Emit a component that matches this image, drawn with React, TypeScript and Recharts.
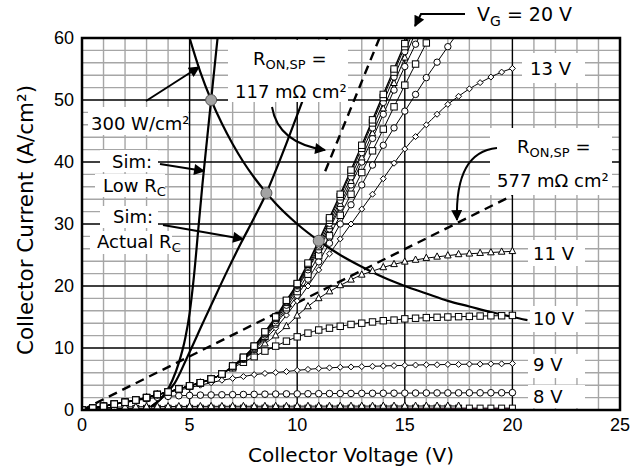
import React from 'react';
import { ComposedChart, Line, Scatter, XAxis, YAxis, CartesianGrid } from 'recharts';

// collector voltage sample points (V), markers every 0.5 V
const volts = [
  0, 0.5, 1, 1.5, 2, 2.5, 3, 3.5, 4, 4.5, 5, 5.5, 6, 6.5, 7, 7.5, 8, 8.5, 9, 9.5, 10,
  10.5, 11, 11.5, 12, 12.5, 13, 13.5, 14, 14.5, 15, 15.5, 16, 16.5, 17, 17.5, 18, 18.5, 19, 19.5, 20,
];

// common turn-on part of the high gate voltage curves (0 .. 6.5 V)
const riseShared = [0, 0.3, 0.6, 0.95, 1.25, 1.6, 2.0, 2.5, 2.9, 3.4, 3.9, 4.4, 5.0, 5.8];

// 7 .. 20 V for each gate voltage
const vg20Tail = [7.1, 8.5, 10.3, 12.6, 15.0, 17.7, 20.4, 23.7, 27.3, 31.0, 34.8, 38.7, 42.7, 46.8, 50.9, 55.0, 59.1, 63.2, null, null, null, null, null, null, null, null, null];
const vg19Tail = [7.1, 8.5, 10.3, 12.5, 14.9, 17.6, 20.3, 23.5, 27.0, 30.6, 34.4, 38.3, 42.2, 46.3, 50.4, 54.5, 58.6, 62.7, null, null, null, null, null, null, null, null, null];
const vg18Tail = [7.0, 8.4, 10.2, 12.4, 14.8, 17.4, 20.1, 23.2, 26.6, 30.1, 33.8, 37.6, 41.5, 45.5, 49.6, 53.7, 57.8, 61.9, null, null, null, null, null, null, null, null, null];
const vg17Tail = [7.0, 8.4, 10.1, 12.3, 14.6, 17.2, 19.9, 22.9, 26.2, 29.6, 33.2, 36.9, 40.7, 44.6, 48.6, 52.7, 56.8, 60.9, null, null, null, null, null, null, null, null, null];
const vg16Tail = [7.0, 8.3, 10.0, 12.1, 14.4, 16.9, 19.6, 22.6, 25.8, 29.2, 32.7, 36.3, 40.0, 43.8, 47.7, 51.6, 55.4, 59.0, 62.6, null, null, null, null, null, null, null, null];
const vg15Tail = [7.0, 8.3, 9.9, 11.9, 14.1, 16.5, 19.1, 21.9, 24.9, 28.1, 31.4, 34.8, 38.3, 41.8, 45.3, 48.9, 52.4, 55.8, 59.2, 62.6, null, null, null, null, null, null, null];
const vg14Tail = [7.0, 8.2, 9.8, 11.7, 13.8, 16.1, 18.5, 21.1, 23.9, 26.9, 30.0, 33.1, 36.3, 39.5, 42.7, 45.5, 48.2, 50.9, 53.6, 56.1, 58.6, 61.0, null, null, null, null, null];
const vg13Tail = [7.0, 8.2, 9.6, 11.4, 13.2, 15.3, 17.6, 20.0, 22.6, 25.2, 27.6, 30.0, 32.4, 34.8, 37.3, 39.8, 42.1, 44.1, 46.0, 47.7, 49.3, 50.6, 51.8, 52.8, 53.7, 54.5, 55.1];
const vg11Tail = [6.9, 8.1, 9.4, 10.7, 12.0, 13.5, 15.2, 16.7, 18.0, 19.1, 20.1, 21.0, 21.8, 22.4, 23.0, 23.5, 23.9, 24.2, 24.5, 24.7, 24.9, 25.1, 25.2, 25.3, 25.4, 25.5, 25.6];
const vg10Tail = [6.8, 7.7, 8.6, 9.5, 10.3, 11.1, 11.8, 12.4, 12.9, 13.2, 13.5, 13.8, 14.0, 14.2, 14.4, 14.5, 14.7, 14.8, 14.9, 14.95, 15.0, 15.05, 15.1, 15.15, 15.2, 15.2, 15.25];

// full 0 .. 20 V curves for the low gate voltages
const vg9 = [0, 0.3, 0.6, 0.95, 1.25, 1.6, 2.0, 2.4, 2.8, 3.2, 3.6, 4.0, 4.4, 4.8, 5.1, 5.4, 5.7, 5.9, 6.05, 6.2, 6.4, 6.55, 6.7, 6.8, 6.9, 6.95, 7.0, 7.05, 7.1, 7.15, 7.2, 7.25, 7.3, 7.3, 7.35, 7.35, 7.4, 7.4, 7.45, 7.45, 7.5];
const vg8 = [0, 0.3, 0.6, 0.9, 1.2, 1.5, 1.8, 2.05, 2.2, 2.3, 2.35, 2.4, 2.42, 2.45, 2.47, 2.5, 2.52, 2.55, 2.57, 2.6, 2.6, 2.62, 2.63, 2.65, 2.66, 2.67, 2.68, 2.69, 2.7, 2.71, 2.72, 2.73, 2.74, 2.75, 2.75, 2.76, 2.77, 2.77, 2.78, 2.78, 2.8];
const vg7 = [0, 0.2, 0.35, 0.45, 0.5, 0.52, 0.54, 0.55, 0.56, 0.57, 0.58, 0.58, 0.59, 0.59, 0.6, 0.6, 0.6, 0.61, 0.61, 0.61, 0.62, 0.62, 0.62, 0.62, 0.63, 0.63, 0.63, 0.63, 0.64, 0.64, 0.64, 0.64, 0.65, 0.65, 0.65, 0.65, null, null, null, null, null];
const vg6 = [0, 0.1, 0.18, 0.22, 0.25, 0.26, 0.27, 0.27, 0.28, 0.28, 0.28, 0.29, 0.29, 0.29, 0.29, 0.3, 0.3, 0.3, 0.3, 0.3, 0.3, 0.3, 0.3, 0.3, 0.3, 0.3, 0.3, 0.3, 0.3, 0.3, 0.3, 0.3, 0.3, 0.3, 0.3, 0.3, 0.3, 0.3, 0.3, 0.3, 0.3];

// near-zero curves drawn as coloured lines
const lowVolts = [0, 2, 4, 6, 8, 10, 12, 14, 16, 18, 20];
const vg5 = [0, 0.1, 0.14, 0.15, 0.15, 0.16, 0.16, 0.16, 0.17, 0.17, 0.17];
const vg4 = [0, 0.05, 0.07, 0.08, 0.08, 0.08, 0.09, 0.09, 0.09, 0.09, 0.09];
const vg3 = [0, 0.01, 0.02, 0.02, 0.02, 0.02, 0.03, 0.03, 0.03, 0.03, 0.03];

// simulations
const lowRcV = [3.2, 3.6, 3.9, 4.2, 4.5, 4.8, 5.0, 5.2, 5.4, 5.6, 5.8, 6.0, 6.15, 6.3, 6.4];
const lowRcI = [0.5, 1.6, 2.8, 4.8, 7.6, 11.6, 15.6, 21.5, 29.0, 36.5, 43.3, 50.0, 55.0, 60.0, 63.0];
const actualRcV = [3.2, 3.6, 3.9, 4.3, 4.9, 5.6, 6.2, 6.8, 7.4, 8.0, 8.57, 9.0, 9.5, 10.1, 10.7, 11.4, 11.6];
const actualRcI = [0.5, 1.6, 2.7, 4.3, 8.6, 13.9, 18.4, 22.8, 27.0, 31.0, 35.0, 38.6, 43.0, 48.5, 54.0, 60.0, 61.8];

// 300 W/cm2 power limit
const powerV = [5, 5.5, 6, 6.5, 7, 7.5, 8, 8.5, 9, 10, 11, 12, 13, 14, 15, 16, 17, 18, 19, 20, 20.7];
const powerI = [60, 54.5, 50, 46.2, 42.9, 40, 37.5, 35.3, 33.3, 30, 27.3, 25, 23.1, 21.4, 20, 18.8, 17.6, 16.7, 15.8, 15, 14.5];

// specific on-resistance lines
const ron117V = [11.3, 14.0];
const ron117I = [38.5, 61.5];
const ron577V = [0, 20];
const ron577I = [0, 34.6];

// operating points at 300 W/cm2
const opV = [6.0, 8.57, 11.0];
const opI = [50, 35.0, 27.3];

const xTicks = [0, 5, 10, 15, 20, 25];
const yTicks = [0, 10, 20, 30, 40, 50, 60];
const xMinor = [1, 2, 3, 4, 6, 7, 8, 9, 11, 12, 13, 14, 16, 17, 18, 19, 21, 22, 23, 24];
const yMinor = [2, 4, 6, 8, 12, 14, 16, 18, 22, 24, 26, 28, 32, 34, 36, 38, 42, 44, 46, 48, 52, 54, 56, 58];
const X_MAX = 25;
const Y_MAX = 60;

const toPoints = (xs: number[], ys: (number | null)[]) => xs.map((x, i) => ({ x, y: ys[i] }));

type Shape = 'circle' | 'square' | 'triangle' | 'diamond' | 'none';

const makeDot = (shape: Shape, s: number) => (props: any) => {
  const { cx, cy, index, payload } = props;
  const k = `d-${index}`;
  if (shape === 'none' || cx == null || cy == null || payload == null || payload.y == null) return <g key={k} />;
  const st = { fill: '#fff', stroke: '#000', strokeWidth: 1 };
  if (shape === 'circle') return <circle key={k} cx={cx} cy={cy} r={s} {...st} />;
  if (shape === 'square') return <rect key={k} x={cx - s} y={cy - s} width={2 * s} height={2 * s} {...st} />;
  if (shape === 'triangle')
    return <polygon key={k} points={`${cx},${cy - s * 1.2} ${cx - s},${cy + s * 0.7} ${cx + s},${cy + s * 0.7}`} {...st} />;
  return <polygon key={k} points={`${cx},${cy - s} ${cx + s},${cy} ${cx},${cy + s} ${cx - s},${cy}`} {...st} />;
};

const family: { name: string; values: (number | null)[]; xs: number[]; shape: Shape; size: number; color: string; width: number }[] = [
  { name: '3 V', xs: lowVolts, values: vg3, shape: 'none', size: 0, color: '#2e9e3e', width: 1.2 },
  { name: '4 V', xs: lowVolts, values: vg4, shape: 'none', size: 0, color: '#5a2fc8', width: 1.2 },
  { name: '5 V', xs: lowVolts, values: vg5, shape: 'none', size: 0, color: '#c8327a', width: 1.2 },
  { name: '6 V', xs: volts, values: vg6, shape: 'square', size: 3, color: '#000', width: 1 },
  { name: '7 V', xs: volts, values: vg7, shape: 'triangle', size: 3.3, color: '#000', width: 1 },
  { name: '8 V', xs: volts, values: vg8, shape: 'circle', size: 3.3, color: '#000', width: 1 },
  { name: '9 V', xs: volts, values: vg9, shape: 'diamond', size: 3, color: '#000', width: 1 },
  { name: '10 V', xs: volts, values: [...riseShared, ...vg10Tail], shape: 'square', size: 3.2, color: '#000', width: 1 },
  { name: '11 V', xs: volts, values: [...riseShared, ...vg11Tail], shape: 'triangle', size: 3.3, color: '#000', width: 1 },
  { name: '13 V', xs: volts, values: [...riseShared, ...vg13Tail], shape: 'diamond', size: 3, color: '#000', width: 1 },
  { name: '14 V', xs: volts, values: [...riseShared, ...vg14Tail], shape: 'circle', size: 3.2, color: '#000', width: 1 },
  { name: '15 V', xs: volts, values: [...riseShared, ...vg15Tail], shape: 'square', size: 3.2, color: '#000', width: 1 },
  { name: '16 V', xs: volts, values: [...riseShared, ...vg16Tail], shape: 'circle', size: 3.2, color: '#000', width: 1 },
  { name: '17 V', xs: volts, values: [...riseShared, ...vg17Tail], shape: 'triangle', size: 3.2, color: '#000', width: 1 },
  { name: '18 V', xs: volts, values: [...riseShared, ...vg18Tail], shape: 'circle', size: 3.2, color: '#000', width: 1 },
  { name: '19 V', xs: volts, values: [...riseShared, ...vg19Tail], shape: 'square', size: 3.2, color: '#000', width: 1 },
  { name: '20 V', xs: volts, values: [...riseShared, ...vg20Tail], shape: 'square', size: 3.2, color: '#000', width: 1.4 },
];

// minor grid positions taken from the chart's own scale when available
const minorX = (props: any) => {
  const sc = props?.xAxis?.scale;
  const o = props.offset;
  return xMinor.map((v) => (typeof sc === 'function' ? sc(v) : o.left + (v / X_MAX) * o.width));
};
const minorY = (props: any) => {
  const sc = props?.yAxis?.scale;
  const o = props.offset;
  return yMinor.map((v) => (typeof sc === 'function' ? sc(v) : o.top + (1 - v / Y_MAX) * o.height));
};

const LBL = { fontFamily: '"DejaVu Sans", Verdana, sans-serif', fontSize: 18, fill: '#000' };
const SUB = 13;

const Overlay = () => (
  <svg width={644} height={469} style={{ position: 'absolute', left: 0, top: 0, pointerEvents: 'none' }}>
    <defs>
      <marker id="ah" viewBox="0 0 10 10" refX="9" refY="5" markerWidth="13" markerHeight="11" markerUnits="userSpaceOnUse" orient="auto">
        <path d="M0,0 L10,5 L0,10 z" fill="#000" />
      </marker>
    </defs>
    {/* white label backgrounds */}
    <g fill="#fff">
      <rect x={228} y={40} width={120} height={62} />
      <rect x={88} y={107} width={100} height={28} />
      <rect x={100} y={150} width={58} height={22} />
      <rect x={95} y={174} width={70} height={23} />
      <rect x={100} y={206} width={58} height={22} />
      <rect x={90} y={231} width={82} height={23} />
      <rect x={490} y={128} width={122} height={67} />
      <rect x={522} y={53} width={63} height={30} />
      <rect x={528} y={240} width={57} height={26} />
      <rect x={530} y={306} width={55} height={26} />
      <rect x={528} y={354} width={57} height={24} />
      <rect x={528} y={385} width={57} height={23} />
    </g>
    <rect x={82} y={38} width={538} height={372} fill="none" stroke="#000" strokeWidth={2.5} />

    <text {...LBL} x={253} y={65}>R<tspan fontSize={SUB} dy={4}>ON,SP</tspan><tspan dy={-4}> =</tspan></text>
    <text {...LBL} x={235} y={98}>117 mΩ cm²</text>
    <text {...LBL} x={91} y={130}>300 W/cm²</text>
    <text {...LBL} x={112} y={168}>Sim:</text>
    <text {...LBL} x={103} y={192}>Low R<tspan fontSize={SUB} dy={4}>C</tspan></text>
    <text {...LBL} x={113} y={223}>Sim:</text>
    <text {...LBL} x={97} y={248}>Actual R<tspan fontSize={SUB} dy={4}>C</tspan></text>
    <text {...LBL} x={517} y={153}>R<tspan fontSize={SUB} dy={4}>ON,SP</tspan><tspan dy={-4}> =</tspan></text>
    <text {...LBL} x={497} y={187}>577 mΩ cm²</text>
    <text {...LBL} x={530} y={75}>13 V</text>
    <text {...LBL} x={533} y={260}>11 V</text>
    <text {...LBL} x={533} y={325}>10 V</text>
    <text {...LBL} x={533} y={371}>9 V</text>
    <text {...LBL} x={533} y={403}>8 V</text>
    <text {...LBL} fontSize={19} x={477} y={21}>V<tspan fontSize={14} dy={5}>G</tspan><tspan dy={-5}> = 20 V</tspan></text>

    <g stroke="#000" strokeWidth={2} fill="none">
      <path d="M465,14 L421,14 L415,26" markerEnd="url(#ah)" />
      <path d="M146,101 L199,67" markerEnd="url(#ah)" />
      <path d="M160,164 L204,171" markerEnd="url(#ah)" />
      <path d="M163,225 L243,239" markerEnd="url(#ah)" />
      <path d="M272,107 Q278,143 325,150" markerEnd="url(#ah)" />
      <path d="M497,148 Q455,152 457,220" markerEnd="url(#ah)" />
    </g>

    <text fontFamily='"DejaVu Sans", Verdana, sans-serif' fontSize={20} x={351} y={462} textAnchor="middle">Collector Voltage (V)</text>
    <text fontFamily='"DejaVu Sans", Verdana, sans-serif' fontSize={21.5} x={0} y={0} textAnchor="middle" transform="translate(33,220) rotate(-90)">Collector Current (A/cm²)</text>
  </svg>
);

const tickStyle = { fontSize: 18, fill: '#000', fontFamily: '"Liberation Sans", Arial, sans-serif' };

export default function App() {
  return (
    <div style={{ position: 'absolute', left: 0, top: 0, width: 644, height: 469, background: '#fff' }}>
      <ComposedChart width={644} height={469} margin={{ top: 38, right: 24, bottom: 29, left: 22 }}>
        <CartesianGrid
          stroke="#a6a6a6"
          strokeWidth={1.4}
          verticalCoordinatesGenerator={minorX}
          horizontalCoordinatesGenerator={minorY}
        />
        <CartesianGrid stroke="#000" strokeWidth={1.4} />
        <XAxis
          type="number"
          dataKey="x"
          domain={[0, X_MAX]}
          ticks={xTicks}
          interval={0}
          height={30}
          axisLine={false}
          tickLine={false}
          tick={tickStyle}
          allowDataOverflow
        />
        <YAxis
          type="number"
          domain={[0, Y_MAX]}
          ticks={yTicks}
          interval={0}
          width={60}
          axisLine={false}
          tickLine={false}
          tick={tickStyle}
          allowDataOverflow
        />
        {family.map((s) => (
          <Line
            key={s.name}
            name={s.name}
            data={toPoints(s.xs, s.values)}
            dataKey="y"
            type="monotone"
            stroke={s.color}
            strokeWidth={s.width}
            dot={makeDot(s.shape, s.size)}
            activeDot={false}
            isAnimationActive={false}
          />
        ))}
        <Line name="577" data={toPoints(ron577V, ron577I)} dataKey="y" type="linear" stroke="#000" strokeWidth={2.4} strokeDasharray="9 6" dot={false} activeDot={false} isAnimationActive={false} />
        <Line name="117" data={toPoints(ron117V, ron117I)} dataKey="y" type="linear" stroke="#000" strokeWidth={2.4} strokeDasharray="9 6" dot={false} activeDot={false} isAnimationActive={false} />
        <Line name="power" data={toPoints(powerV, powerI)} dataKey="y" type="monotone" stroke="#000" strokeWidth={2.2} dot={false} activeDot={false} isAnimationActive={false} />
        <Line name="lowRc" data={toPoints(lowRcV, lowRcI)} dataKey="y" type="monotone" stroke="#000" strokeWidth={2.2} dot={false} activeDot={false} isAnimationActive={false} />
        <Line name="actualRc" data={toPoints(actualRcV, actualRcI)} dataKey="y" type="monotone" stroke="#000" strokeWidth={2.2} dot={false} activeDot={false} isAnimationActive={false} />
        <Scatter
          name="op"
          data={toPoints(opV, opI)}
          dataKey="y"
          isAnimationActive={false}
          shape={(p: any) => <circle cx={p.cx} cy={p.cy} r={5.5} fill="#a3a3a3" stroke="#555" strokeWidth={1} />}
        />
      </ComposedChart>
      <Overlay />
    </div>
  );
}
